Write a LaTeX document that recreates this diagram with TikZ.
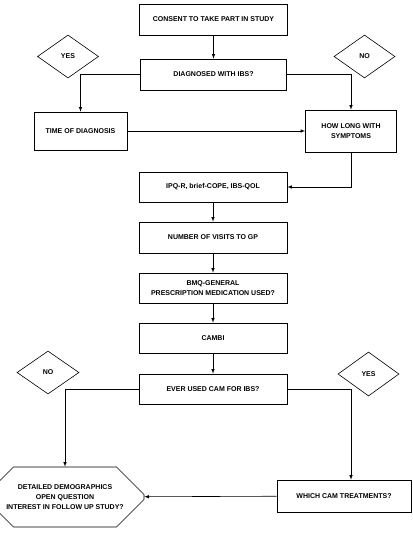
\documentclass[tikz,border=0pt]{standalone}
\usepackage{fontspec}
\setmainfont{Liberation Sans}
\usetikzlibrary{shapes.geometric,shapes.misc,arrows}
\tikzstyle{mybox}=[draw,rectangle,minimum width=148,minimum height=31,inner sep=1pt,align=center]
\tikzstyle{mychoice}=[draw,diamond,minimum width=61,minimum height=43,inner sep=0pt]
\tikzstyle{myend}=[draw,chamfered rectangle,chamfered rectangle xsep=27,chamfered rectangle ysep=14,minimum width=158,minimum height=60,inner sep=1pt,align=center]
\tikzstyle{myarrow}=[line width=0.6pt,>=latex,->]

\begin{document}
\begin{tikzpicture}[x=1pt,y=-1pt,font=\fontsize{7}{10}\selectfont\bfseries,line width=0.6pt]
		\useasboundingbox[fill=white] (0,0) rectangle (412,543);

		\node[mybox] (consent) at (213.5,19.5) {CONSENT TO TAKE PART IN STUDY};
		\node[mybox,minimum width=146] (diag) at (213.5,74.5) {DIAGNOSED WITH IBS?};
		\node[mychoice] (yes1) at (68,56.5) {YES};
		\node[mychoice] (no1) at (364.5,56.5) {NO};
		\node[mybox,minimum width=93,minimum height=38] (time) at (80.5,131) {TIME OF DIAGNOSIS};
		\node[mybox,minimum width=91,minimum height=42] (howlong) at (351,131) {HOW LONG WITH\\SYMPTOMS};

		\node[mybox,minimum height=30] (ipq) at (213,187) {IPQ-R, brief-COPE, IBS-QOL};
		\node[mybox] (visits) at (213,237.5) {NUMBER OF VISITS TO GP};
		\node[mybox,minimum height=30] (bmq) at (213,288) {BMQ-GENERAL\\PRESCRIPTION MEDICATION USED?};
		\node[mybox,minimum height=30] (cambi) at (213,338) {CAMBI};
		\node[mybox,minimum height=30] (ever) at (213,389) {EVER USED CAM FOR IBS?};

		\node[mychoice,minimum width=62] (no2) at (48,372.5) {NO};
		\node[mychoice,minimum height=44] (yes2) at (368.5,374) {YES};
		\node[mybox,minimum width=134,minimum height=32] (which) at (344,496) {WHICH CAM TREATMENTS?};
		% octagon runs off the left edge of the page
		\node[myend] (demo) at (65,497) {DETAILED DEMOGRAPHICS\\OPEN QUESTION\\INTEREST IN FOLLOW UP STUDY?};

		\draw[myarrow] (consent) -- (diag);
		\draw[myarrow] (diag.west) -| (time.north);
		\draw[myarrow] (diag.east) -| (howlong.north);
		\draw[myarrow] (time) -- (howlong);
		\draw[myarrow] (howlong.south) |- (ipq.east);
		\draw[myarrow] (ipq) -- (visits);
		\draw[myarrow] (visits) -- (bmq);
		\draw[myarrow] (bmq) -- (cambi);
		\draw[myarrow] (cambi) -- (ever);
		\draw[myarrow] (ever.west) -| (demo.north);
		\draw[myarrow] (ever.east) -| ([xshift=7]which.north);
		\draw[myarrow] (which) -- (demo);
	\end{tikzpicture}
\end{document}
